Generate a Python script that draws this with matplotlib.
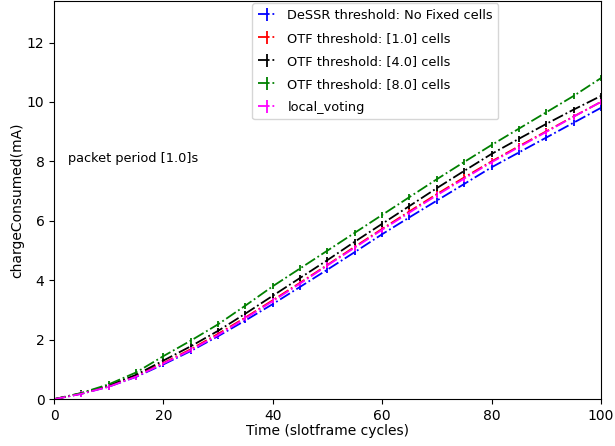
import numpy as np
import matplotlib
matplotlib.use("Agg")
import matplotlib.pyplot as plt

cycles = [0, 5, 10, 15, 20, 25, 30, 35, 40, 45, 50, 55, 60, 65, 70, 75, 80, 85, 90, 95, 100]

dessr = [0, 0.18, 0.42, 0.75, 1.17, 1.62, 2.12, 2.65, 3.2, 3.78, 4.36, 4.95, 5.55, 6.12, 6.68, 7.24, 7.8, 8.3, 8.8, 9.3, 9.8]
otf1 = [0, 0.19, 0.44, 0.78, 1.22, 1.68, 2.2, 2.75, 3.33, 3.92, 4.52, 5.13, 5.73, 6.32, 6.9, 7.46, 8.0, 8.51, 9.01, 9.51, 10.0]
otf4 = [0, 0.2, 0.46, 0.82, 1.3, 1.78, 2.3, 2.88, 3.48, 4.08, 4.68, 5.3, 5.9, 6.5, 7.1, 7.68, 8.25, 8.76, 9.26, 9.74, 10.2]
otf8 = [0, 0.21, 0.5, 0.9, 1.45, 1.97, 2.52, 3.15, 3.8, 4.4, 5.0, 5.6, 6.2, 6.8, 7.4, 7.98, 8.55, 9.1, 9.65, 10.2, 10.8]
voting = [0, 0.18, 0.42, 0.76, 1.2, 1.65, 2.16, 2.72, 3.3, 3.89, 4.5, 5.1, 5.7, 6.28, 6.86, 7.42, 7.97, 8.48, 8.99, 9.5, 10.0]
err = 0.1

labels = ["DeSSR threshold: No Fixed cells", "OTF threshold: [1.0] cells",
          "OTF threshold: [4.0] cells", "OTF threshold: [8.0] cells", "local_voting"]
colors = ["blue", "red", "black", "green", "magenta"]

fig = plt.figure(figsize=(6.15, 4.46), dpi=100)
ax = fig.add_axes([0.088, 0.105, 0.889, 0.893])

for ys, lab, c in zip([dessr, otf1, otf4, otf8, voting], labels, colors):
    ax.errorbar(cycles, ys, yerr=err, fmt='-.', color=c, label=lab, linewidth=1.3)

ax.set_xlim(0, 100)
ax.set_ylim(0, 13.4)
ax.set_xticks([0, 20, 40, 60, 80, 100])
ax.set_yticks([0, 2, 4, 6, 8, 10, 12])
ax.set_xlabel("Time (slotframe cycles)", labelpad=1)
ax.set_ylabel("chargeConsumed(mA)", labelpad=2)
ax.text(0.025, 0.595, "packet period [1.0]s", transform=ax.transAxes, fontsize=9.3)
ax.legend(loc="upper left", bbox_to_anchor=(0.358, 1.0), handlelength=1.5,
          borderaxespad=0.2, labelspacing=0.78, fontsize=9.3)

fig.savefig("out.png")
